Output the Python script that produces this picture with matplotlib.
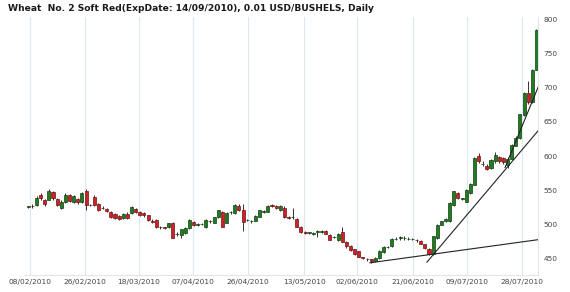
import numpy as np
import matplotlib
matplotlib.use('Agg')
import matplotlib.pyplot as plt

# dados diarios (indice de pregao 0..123)
opens = [525, 527, 528, 542, 535, 536, 547, 537, 523, 533, 542, 533, 537, 532, 548, 528, 540, 529, 524, 522,
         518, 515, 512, 509, 515, 516, 522, 517, 516, 513,
         505, 506, 495, 495, 495, 501, 485, 484, 487, 494, 503, 499, 500, 495, 504, 502, 510, 518, 502, 517,
         516, 527, 521, 506, 504, 505, 511, 518, 518,
         528, 526, 520, 524, 510, 510, 508, 496, 488, 487, 486, 489, 489, 490, 484, 481, 476, 489, 474, 468,
         463, 460, 451, 449, 448, 445, 450, 459, 466,
         467, 478, 480, 479, 478, 478, 477, 475, 470, 464, 456, 479, 499, 504, 504, 528, 546, 537, 533, 545,
         558, 600, 588, 586, 582, 592, 598, 597, 587, 596, 615, 626, 660, 692, 679, 727]
highs = [527, 529, 541, 545, 537, 552, 549, 538, 535, 545, 544, 543, 539, 547, 551, 530, 542, 531, 526, 524,
         519, 516, 513, 516, 517, 527, 524, 519, 518, 514,
         507, 507, 497, 496, 502, 503, 488, 493, 495, 508, 505, 502, 502, 507, 506, 511, 521, 519, 517, 519,
         529, 529, 530, 508, 506, 513, 521, 520, 528,
         530, 528, 528, 526, 512, 524, 509, 497, 490, 489, 488, 491, 491, 491, 485, 483, 487, 496, 475, 469,
         464, 461, 452, 450, 449, 451, 462, 467, 468,
         479, 481, 483, 482, 481, 480, 478, 476, 471, 465, 483, 500, 505, 509, 532, 549, 547, 539, 551, 560,
         598, 604, 592, 588, 596, 606, 600, 599, 598, 618, 629, 662, 694, 710, 728, 786]
lows = [523, 524, 527, 536, 527, 535, 536, 526, 522, 531, 532, 531, 530, 531, 521, 526, 526, 519, 522, 517,
        509, 507, 506, 508, 507, 515, 516, 512, 511, 504,
        502, 494, 493, 493, 494, 479, 483, 479, 486, 493, 497, 497, 498, 494, 502, 501, 509, 495, 501, 515,
        515, 519, 490, 504, 502, 504, 510, 516, 517,
        525, 522, 519, 509, 508, 508, 495, 487, 486, 485, 484, 481, 487, 485, 476, 479, 475, 473, 465, 461,
        455, 451, 449, 446, 443, 444, 449, 458, 465,
        466, 476, 477, 476, 476, 476, 474, 470, 464, 454, 454, 478, 498, 503, 503, 527, 537, 535, 532, 544,
        557, 590, 585, 579, 581, 590, 590, 588, 582, 595, 614, 625, 659, 677, 678, 726]
closes = [526, 526, 539, 538, 529, 549, 538, 528, 533, 543, 534, 541, 532, 545, 528, 528, 528, 521, 523, 519,
          511, 509, 508, 515, 509, 525, 517, 514, 513, 506,
          503, 496, 495, 494, 501, 480, 486, 492, 494, 506, 498, 500, 500, 506, 504, 510, 520, 496, 516, 517,
          528, 520, 503, 506, 504, 512, 520, 518, 527,
          526, 524, 527, 510, 509, 510, 496, 489, 487, 487, 486, 489, 489, 486, 477, 481, 486, 474, 467, 462,
          456, 452, 450, 448, 445, 450, 461, 466, 466,
          478, 478, 480, 479, 478, 478, 476, 471, 465, 456, 482, 499, 504, 508, 531, 548, 538, 537, 550, 559,
          597, 592, 588, 581, 594, 601, 592, 591, 596, 616, 627, 661, 692, 679, 726, 785]

tick_labels = ['08/02/2010', '26/02/2010', '18/03/2010', '07/04/2010', '26/04/2010',
               '13/05/2010', '02/06/2010', '21/06/2010', '09/07/2010', '28/07/2010']
tick_pos = [0.4, 13.7, 26.8, 39.9, 53.2, 66.8, 79.6, 93.1, 106.2, 119.5]

# linhas de tendencia: (x inicial, preco inicial, x final, preco final)
trend_lines = [(82.7, 443, 123.4, 477),
               (96.5, 444, 123.4, 637),
               (115.4, 583, 123.4, 701)]

o = np.array(opens, dtype=float)
h = np.array(highs, dtype=float)
l = np.array(lows, dtype=float)
c = np.array(closes, dtype=float)
x = np.arange(len(o))

fig = plt.figure(figsize=(5.7, 2.92), dpi=100)
ax = fig.add_axes([0.042, 0.058, 0.902, 0.884])

up = c >= o
body_col = np.where(up, '#247a24', '#cc2229')
edge_col = np.where(up, '#0e3f0e', '#6e1010')

ax.vlines(x, l, h, color='#333333', linewidth=0.7, zorder=2)
bottom = np.minimum(o, c)
height = np.maximum(np.abs(c - o), 0.6)
ax.bar(x, height, bottom=bottom, width=0.74, color=body_col, edgecolor=edge_col,
       linewidth=0.5, zorder=3)

for x0, y0, x1, y1 in trend_lines:
    ax.plot([x0, x1], [y0, y1], color='#222222', linewidth=0.8, zorder=4)

ax.set_xlim(-1.04, 123.4)
ax.set_ylim(425, 804.4)

ax.set_xticks(tick_pos)
ax.set_xticklabels(tick_labels)
ax.set_yticks([450, 500, 550, 600, 650, 700, 750, 800])
ax.yaxis.tick_right()
ax.tick_params(axis='both', length=0, labelsize=5.3, colors='#444444')
ax.tick_params(axis='y', pad=4)
ax.tick_params(axis='x', pad=3)

ax.grid(axis='x', color='#dde9f2', linewidth=0.8)
ax.set_axisbelow(True)
for s in ['left', 'top']:
    ax.spines[s].set_visible(False)
for s in ['bottom', 'right']:
    ax.spines[s].set_color('#dfe6ec')
    ax.spines[s].set_linewidth(0.8)

fig.text(0.014, 0.972, 'Wheat  No. 2 Soft Red(ExpDate: 14/09/2010), 0.01 USD/BUSHELS, Daily',
         fontsize=6.55, fontweight='bold', color='#1a1a1a', va='center', ha='left')

fig.savefig('out.png', dpi=100)
